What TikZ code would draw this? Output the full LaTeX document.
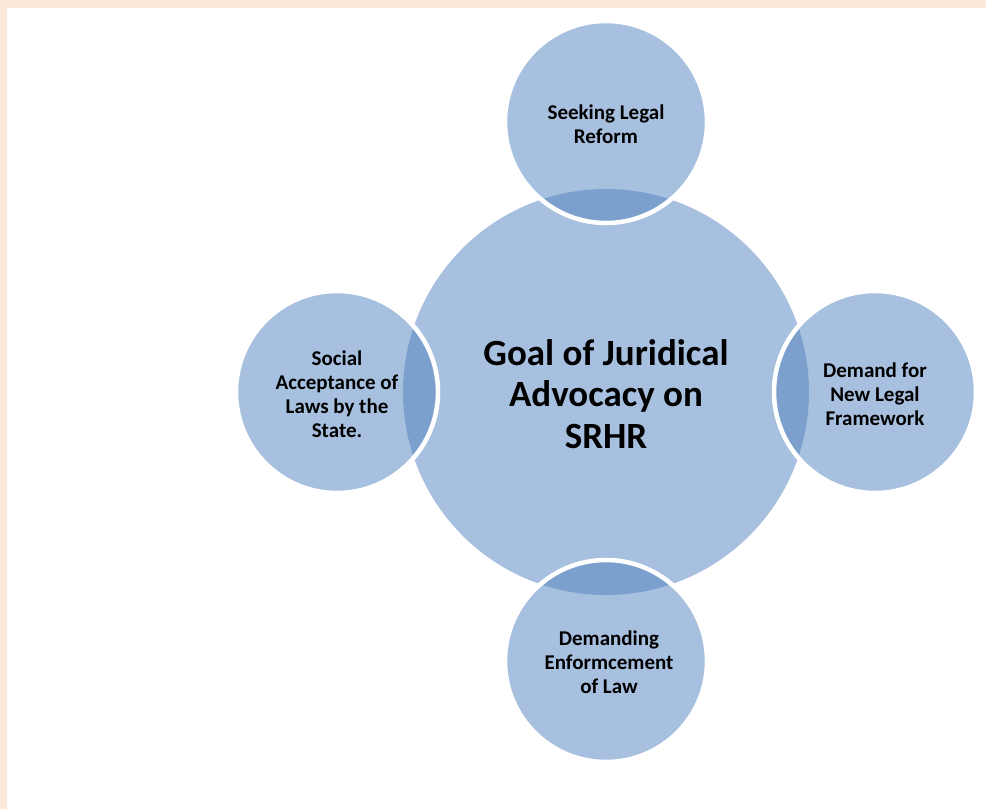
\documentclass[tikz,border=0pt]{standalone}
\usepackage{fontspec}
\setmainfont{Carlito}
\definecolor{peach}{HTML}{FDE9D9}
\definecolor{lightblue}{HTML}{A8C0DF}
\definecolor{lensblue}{HTML}{7BA0CD}
\tikzset{
  bigtext/.style={align=center, font=\fontsize{37}{41.5}\selectfont\bfseries, text=black},
  smalltext/.style={align=center, font=\fontsize{21}{24}\selectfont\bfseries, text=black},
  gap/.style={draw=white, line width=4.5pt}
}
\begin{document}
\begin{tikzpicture}[x=1pt,y=-1pt]
\useasboundingbox (0,0) rectangle (986,809);
\fill[peach] (0,0) rectangle (986,809);
\fill[white] (7,8) rectangle (986,809);
% centres
\coordinate (c) at (606,392);
\coordinate (t) at (606,122);
\coordinate (b) at (606,661);
\coordinate (l) at (337,392);
\coordinate (r) at (875,392);
% big circle
\fill[lightblue] (c) circle (203);
% satellites
\foreach \p in {t,b,l,r}{
  \fill[lightblue] (\p) circle (101);
  \begin{scope}
    \clip (\p) circle (101);
    \fill[lensblue] (c) circle (203);
  \end{scope}
  \draw[gap] (\p) circle (101);
}
% texts
\node[bigtext] (goal) at (606,394) {Goal of Juridical\\Advocacy on\\SRHR};
\node[smalltext] (reform) at (606,124) {Seeking Legal\\Reform};
\node[smalltext] (social) at (337,394) {Social\\Acceptance of\\Laws by the\\State.};
\node[smalltext] (demand) at (875,394) {Demand for\\New Legal\\Framework};
\node[smalltext] (enforce) at (609,662) {Demanding\\Enformcement\\of Law};
\end{tikzpicture}
\end{document}
